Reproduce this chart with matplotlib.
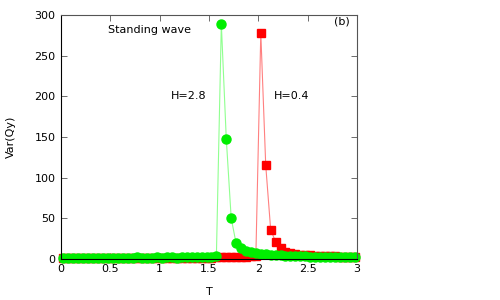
import numpy as np
import matplotlib
matplotlib.use("Agg")
from matplotlib import pyplot as plt

# temperature grid (step 0.05, offset 0.025)
T = np.arange(0.025, 3.0, 0.05)

# H=2.8 (green circles)
var_h28 = [1.6, 1.5, 1.7, 1.5, 1.6, 1.4, 1.6, 1.5, 1.7, 1.6,
           1.5, 1.6, 1.7, 1.5, 1.6, 1.8, 1.6, 1.7, 1.6, 1.8,
           1.7, 1.9, 1.8, 1.7, 1.9, 2.0, 1.9, 2.1, 2.2, 2.4,
           2.8, 4.0, 289, 148, 50, 19, 13, 10, 8, 7,
           6, 5.5, 5, 4.6, 4.2, 3.9, 3.6, 3.4, 3.2, 3.0,
           2.8, 2.7, 2.5, 2.4, 2.3, 2.2, 2.1, 2.0, 1.9, 1.8]

# H=0.4 (red squares)
var_h04 = [0.5, 0.5, 0.6, 0.5, 0.5, 0.6, 0.5, 0.6, 0.6, 0.5,
           0.6, 0.6, 0.7, 0.6, 0.7, 0.7, 0.8, 0.7, 0.8, 0.9,
           0.9, 1.0, 1.0, 1.1, 1.2, 1.2, 1.3, 1.4, 1.5, 1.6,
           1.7, 1.8, 1.9, 2.0, 2.2, 2.4, 2.6, 2.9, 3.3, 3.8,
           278, 115, 36, 21, 13, 9, 7, 6, 5.3, 4.8,
           4.4, 4.0, 3.7, 3.4, 3.2, 3.0, 2.8, 2.6, 2.5, 2.4]

fig = plt.figure(figsize=(5, 3), dpi=100)
ax = fig.add_axes([0.122, 0.137, 0.592, 0.813])

ax.plot(T, var_h04, color='#ff8080', lw=0.8, marker='s', ms=6,
        mfc='#ff0000', mec='#ff0000', clip_on=False, zorder=2)
ax.plot(T, var_h28, color='#90ff90', lw=0.8, marker='o', ms=6.5,
        mfc='#00ee00', mec='#00ee00', clip_on=False, zorder=3)

ax.set_xlim(0, 3)
ax.set_ylim(0, 300)
ax.set_xticks([0, 0.5, 1, 1.5, 2, 2.5, 3])
ax.set_xticklabels(['0', '0.5', '1', '1.5', '2', '2.5', '3'])
ax.set_yticks(range(0, 301, 50))
ax.tick_params(direction='in', top=True, right=True, labelsize=8,
               length=4, width=0.6, color='#555555', pad=4)
for s in ax.spines.values():
    s.set_linewidth(0.8)
    s.set_color('#555555')
    s.set_zorder(5)
ax.spines['bottom'].set_color('black')
ax.spines['left'].set_color('black')

ax.set_xlabel('T', fontsize=8, labelpad=9)
ax.set_ylabel('Var(Qy)', fontsize=8, labelpad=13)

ax.text(0.16, 0.94, 'Standing wave', transform=ax.transAxes, fontsize=8,
        va='center', ha='left')
ax.text(0.975, 0.975, '(b)', transform=ax.transAxes, fontsize=8,
        va='center', ha='right')
ax.text(1.11, 200, 'H=2.8', fontsize=8, va='center')
ax.text(2.16, 200, 'H=0.4', fontsize=8, va='center')

fig.savefig('out.png', dpi=100)
